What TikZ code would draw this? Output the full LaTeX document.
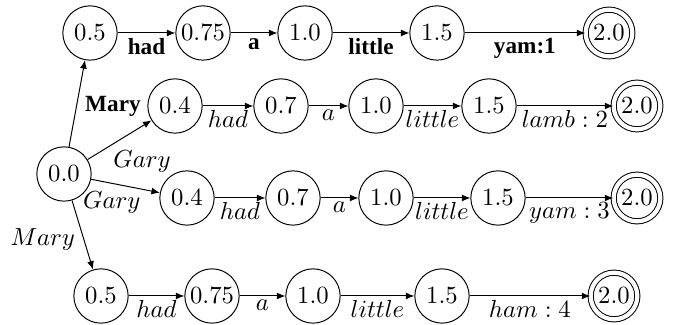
\documentclass[tikz,border=0pt]{standalone}
\usepackage{fontspec}
\newfontfamily\tnr{Liberation Serif}[BoldFont={Liberation Serif Bold}]
\usetikzlibrary{arrows.meta}
\begin{document}
\begin{tikzpicture}[x=0.405pt,y=-0.405pt,
  st/.style={circle,draw,minimum size=22pt,inner sep=0pt,line width=0.4pt},
  acc/.style={circle,draw,double,double distance=1.7pt,minimum size=18.9pt,inner sep=0pt,line width=0.4pt},
  tr/.style={-{Latex[length=3.4pt,width=2.8pt]},line width=0.4pt},
  bf/.style={font=\tnr\bfseries\fontsize{9.4}{11}\selectfont},
  bl/.style={bf,inner sep=2pt},
  il/.style={inner sep=1.5pt}]
\useasboundingbox (0,0) rectangle (673,325);
% start
\node[st] (s) at (64,174) {$0.0$};
% row 1
\node[st] (a1) at (90,33) {$0.5$};
\node[st] (a2) at (203,33) {$0.75$};
\node[st] (a3) at (305,33) {$1.0$};
\node[st] (a4) at (437,33) {$1.5$};
\node[acc] (a5) at (609,33) {$2.0$};
% row 2
\node[st] (b1) at (175,106) {$0.4$};
\node[st] (b2) at (281,106) {$0.7$};
\node[st] (b3) at (376,106) {$1.0$};
\node[st] (b4) at (489,106) {$1.5$};
\node[acc] (b5) at (637,106) {$2.0$};
% row 3
\node[st] (c1) at (187,198) {$0.4$};
\node[st] (c2) at (293,198) {$0.7$};
\node[st] (c3) at (386,198) {$1.0$};
\node[st] (c4) at (498,198) {$1.5$};
\node[acc] (c5) at (637,198) {$2.0$};
% row 4
\node[st] (d1) at (101,296) {$0.5$};
\node[st] (d2) at (212,296) {$0.75$};
\node[st] (d3) at (313,296) {$1.0$};
\node[st] (d4) at (442,296) {$1.5$};
\node[acc] (d5) at (614,296) {$2.0$};
% from start
\draw[tr] (s) -- node[pos=0.47,right,bf] {Mary} (a1);
\draw[tr] (s) -- node[pos=0.34,anchor=north west,inner sep=1.5pt] {$Gary$} (b1);
\draw[tr] (s) -- node[pos=0.3,below] {$Gary$} (c1);
\draw[tr] (s) -- node[pos=0.56,left] {$Mary$} (d1);
% row 1
\draw[tr] (a1) -- node[below,bl] {had} (a2);
\draw[tr] (a2) -- node[below,bl] {a} (a3);
\draw[tr] (a3) -- node[below,bl] {little} (a4);
\draw[tr] (a4) -- node[below,bl] {yam:1} (a5);
% row 2
\draw[tr] (b1) -- node[below,il] {$had$} (b2);
\draw[tr] (b2) -- node[below,il] {$a$} (b3);
\draw[tr] (b3) -- node[below,il] {$little$} (b4);
\draw[tr] (b4) -- node[below,il] {$lamb:2$} (b5);
% row 3
\draw[tr] (c1) -- node[below,il] {$had$} (c2);
\draw[tr] (c2) -- node[below,il] {$a$} (c3);
\draw[tr] (c3) -- node[below,il] {$little$} (c4);
\draw[tr] (c4) -- node[below,il] {$yam:3$} (c5);
% row 4
\draw[tr] (d1) -- node[below,il] {$had$} (d2);
\draw[tr] (d2) -- node[below,il] {$a$} (d3);
\draw[tr] (d3) -- node[below,il] {$little$} (d4);
\draw[tr] (d4) -- node[below,il] {$ham:4$} (d5);
\end{tikzpicture}
\end{document}
